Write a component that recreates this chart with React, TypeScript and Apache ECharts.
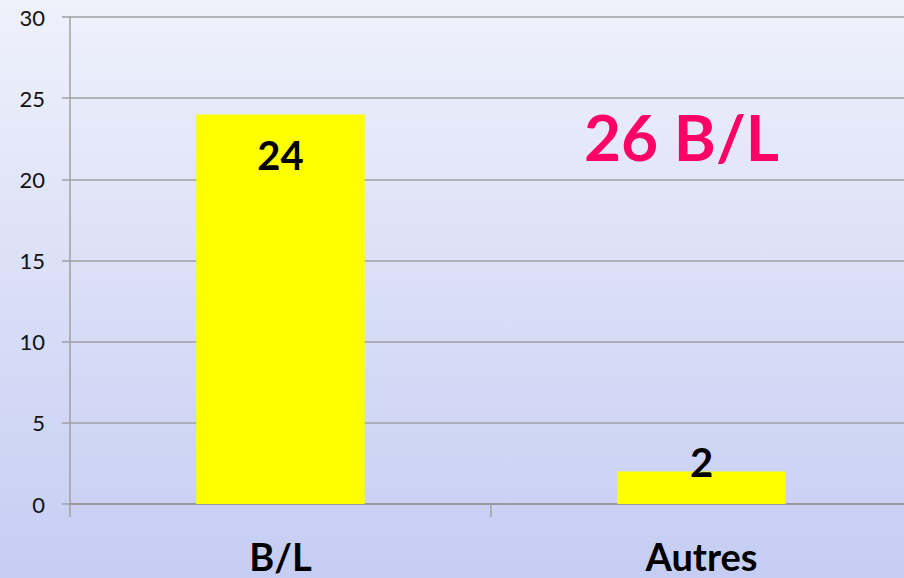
import React, { useEffect, useRef } from "react";
import * as echarts from "echarts";

const categories = ["B/L", "Autres"];
const values = [24, 2];
const yTicks = { min: 0, max: 30, interval: 5 };
const totalLabel = "26 B/L";

export default function App() {
  const ref = useRef<HTMLDivElement>(null);
  useEffect(() => {
    document.body.style.margin = "0";
    const chart = echarts.init(ref.current!, null, { renderer: "svg" });
    chart.setOption({
      animation: false,
      backgroundColor: {
        type: "linear",
        x: 0,
        y: 0,
        x2: 0,
        y2: 1,
        colorStops: [
          { offset: 0, color: "#eff1fb" },
          { offset: 1, color: "#c5cdf3" },
        ],
      },
      grid: { left: 70, top: 17, bottom: 74, right: 0, containLabel: false },
      xAxis: {
        type: "category",
        data: categories,
        axisLine: { lineStyle: { color: "#909090", width: 1.5 } },
        axisTick: { show: true, length: 13, lineStyle: { color: "#a0a0a0", width: 1.5 } },
        axisLabel: {
          fontFamily: "Lato",
          fontWeight: "bold",
          fontSize: 38,
          color: "#000",
          margin: 33,
        },
      },
      yAxis: {
        type: "value",
        min: yTicks.min,
        max: yTicks.max,
        interval: yTicks.interval,
        axisLine: { show: true, lineStyle: { color: "#a0a0a0", width: 1.5 } },
        axisTick: { show: true, length: 8, lineStyle: { color: "#a0a0a0", width: 1.5 } },
        splitLine: { lineStyle: { color: "#a0a0a0", width: 1.5 } },
        axisLabel: {
          fontFamily: "Lato",
          fontSize: 22,
          color: "#111",
          margin: 25,
        },
      },
      series: [
        {
          type: "bar",
          barWidth: "40%",
          itemStyle: { color: "#ffff00" },
          data: values.map((v, i) => ({
            value: v,
            label:
              i === 0
                ? { show: true, position: "insideTop", distance: 21 }
                : { show: true, position: "top", distance: -10 },
          })),
          label: {
            fontFamily: "Lato",
            fontWeight: "bold",
            fontSize: 40,
            color: "#000",
          },
        },
      ],
      graphic: [
        {
          type: "text",
          left: 584,
          top: 104,
          style: {
            text: totalLabel,
            fontFamily: "Lato",
            fontWeight: "bold",
            fontSize: 64,
            fill: "#ff0066",
          },
        },
      ],
    });
    return () => chart.dispose();
  }, []);
  return (
    <div style={{ width: 904, height: 578, overflow: "hidden" }}>
      <div ref={ref} style={{ width: 912, height: 578 }} />
    </div>
  );
}
